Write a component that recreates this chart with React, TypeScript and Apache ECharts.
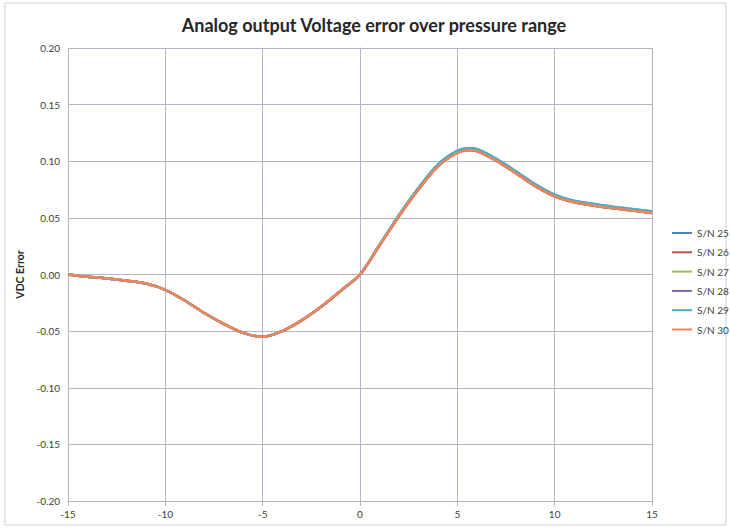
import React, { useEffect, useRef } from "react";
import * as echarts from "echarts";

const titleText = "Analog output Voltage error over pressure range";
const yAxisName = "VDC Error";

const pressure = [-15, -14, -13, -12, -11, -10, -9, -8, -7, -6, -5, -4, -3, -2, -1, 0, 1, 2, 3, 4, 5, 5.6, 6, 7, 8, 9, 10, 11, 12, 13, 14, 15];

const sn25 = [0, -0.002, -0.0035, -0.0055, -0.008, -0.0135, -0.023, -0.034, -0.0435, -0.0515, -0.055, -0.05, -0.0405, -0.0285, -0.0145, 0, 0.026, 0.0522, 0.0762, 0.0968, 0.109, 0.1115, 0.1105, 0.102, 0.091, 0.0795, 0.0703, 0.065, 0.0622, 0.0597, 0.0577, 0.0557];
const sn26 = [0, -0.002, -0.0035, -0.0055, -0.008, -0.0135, -0.023, -0.034, -0.0435, -0.0515, -0.055, -0.05, -0.0405, -0.0285, -0.0145, 0, 0.0256, 0.0515, 0.075, 0.0955, 0.1075, 0.11, 0.109, 0.1005, 0.0895, 0.078, 0.069, 0.0638, 0.061, 0.0585, 0.0565, 0.0544];
const sn27 = [0, -0.002, -0.0035, -0.0055, -0.008, -0.0135, -0.023, -0.034, -0.0435, -0.0515, -0.055, -0.05, -0.0405, -0.0285, -0.0145, 0, 0.0256, 0.0515, 0.075, 0.0955, 0.1075, 0.11, 0.109, 0.1005, 0.0895, 0.078, 0.069, 0.0638, 0.061, 0.0585, 0.0565, 0.0544];
const sn28 = [0, -0.002, -0.0035, -0.0055, -0.008, -0.0135, -0.023, -0.034, -0.0435, -0.0515, -0.055, -0.05, -0.0405, -0.0285, -0.0145, 0, 0.0256, 0.0515, 0.075, 0.0955, 0.1075, 0.11, 0.109, 0.1005, 0.0895, 0.078, 0.069, 0.0638, 0.061, 0.0585, 0.0565, 0.0544];
const sn29 = [0, -0.002, -0.0035, -0.0055, -0.008, -0.0135, -0.023, -0.034, -0.0435, -0.0515, -0.055, -0.05, -0.0405, -0.0285, -0.0145, 0, 0.0262, 0.0525, 0.0765, 0.0972, 0.1093, 0.1118, 0.1108, 0.1023, 0.0913, 0.0798, 0.0706, 0.0652, 0.0624, 0.0599, 0.0579, 0.0559];
const sn30 = [0, -0.002, -0.0035, -0.0055, -0.008, -0.0135, -0.023, -0.034, -0.0435, -0.0515, -0.055, -0.05, -0.0405, -0.0285, -0.0145, 0, 0.0256, 0.0515, 0.075, 0.0955, 0.1075, 0.11, 0.109, 0.1005, 0.0895, 0.078, 0.069, 0.0638, 0.061, 0.0585, 0.0565, 0.0544];

const seriesNames = ["S/N 25", "S/N 26", "S/N 27", "S/N 28", "S/N 29", "S/N 30"];
const seriesValues = [sn25, sn26, sn27, sn28, sn29, sn30];
const seriesColors = ["#4F81BD", "#C0504D", "#9BBB59", "#8064A2", "#4BACC6", "#F0845A"];

const FONT = "Lato, 'Noto Sans', sans-serif";
const GRID_COLOR = "#b4b4c6";

export default function App() {
  const ref = useRef<HTMLDivElement>(null);
  useEffect(() => {
    if (!ref.current) return;
    const chart = echarts.init(ref.current, undefined, { renderer: "svg" });
    chart.setOption({
      animation: false,
      backgroundColor: "#ffffff",
      textStyle: { fontFamily: FONT },
      title: {
        text: titleText,
        left: 369,
        top: 11,
        textAlign: "center",
        textStyle: { fontFamily: FONT, fontSize: 18, fontWeight: "bold", color: "#262626" },
      },
      graphic: [
        {
          type: "rect",
          shape: { x: 5, y: 3, width: 721, height: 522 },
          style: { fill: "none", stroke: "#cdcdcd", lineWidth: 1 },
          silent: true,
        },
      ],
      legend: {
        orient: "vertical",
        left: 672,
        top: 226,
        padding: 0,
        icon: "rect",
        itemWidth: 20,
        itemHeight: 2,
        itemGap: 5.3,
        textStyle: { fontFamily: FONT, fontSize: 10, color: "#404040", lineHeight: 14 },
        data: seriesNames,
      },
      grid: { left: 68, right: 78, top: 48, bottom: 28, containLabel: false },
      xAxis: {
        type: "value",
        min: -15,
        max: 15,
        interval: 5,
        axisLine: { show: true, onZero: false, lineStyle: { color: GRID_COLOR, width: 1 } },
        axisTick: { show: true, length: 5, lineStyle: { color: GRID_COLOR } },
        splitLine: { show: true, lineStyle: { color: GRID_COLOR, width: 1 } },
        axisLabel: { color: "#404040", fontSize: 10, fontFamily: FONT, margin: 8 },
      },
      yAxis: {
        type: "value",
        min: -0.2,
        max: 0.2,
        interval: 0.05,
        name: yAxisName,
        nameLocation: "middle",
        nameGap: 36,
        nameRotate: 90,
        nameTextStyle: { fontFamily: FONT, fontSize: 10.5, fontWeight: "bold", color: "#262626" },
        axisLine: { show: true, lineStyle: { color: GRID_COLOR, width: 1 } },
        axisTick: { show: true, length: 5, lineStyle: { color: GRID_COLOR } },
        splitLine: { show: true, lineStyle: { color: GRID_COLOR, width: 1 } },
        axisLabel: {
          color: "#404040",
          fontSize: 10,
          fontFamily: FONT,
          margin: 8,
          formatter: (v: number) => v.toFixed(2),
        },
      },
      series: seriesNames.map((name, i) => ({
        name,
        type: "line",
        smooth: 0.3,
        symbol: "none",
        color: seriesColors[i],
        lineStyle: { width: 2.5, color: seriesColors[i] },
        data: pressure.map((x, j) => [x, seriesValues[i][j]]),
      })),
    });
    return () => chart.dispose();
  }, []);
  return (
    <div
      ref={ref}
      style={{ position: "fixed", left: 0, top: 0, width: 730, height: 529 }}
    />
  );
}
